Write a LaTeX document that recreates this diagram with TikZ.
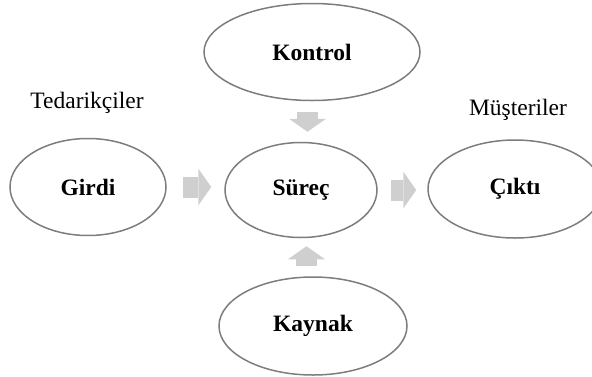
\documentclass[tikz,border=0pt]{standalone}
\usepackage{fontspec}
\setmainfont{Liberation Serif}
\usetikzlibrary{shapes.geometric,arrows.meta}
\definecolor{rimgray}{RGB}{125,125,125}
\definecolor{flowgray}{RGB}{207,207,207}
\begin{document}
\begin{tikzpicture}[x=1pt,y=-1pt,
	stage/.style={ellipse, draw=rimgray, line width=1.5pt, inner sep=0pt, font=\fontsize{23.5}{28}\selectfont\bfseries},
	side/.style={font=\fontsize{23.5}{28}\selectfont},
	flow/.style={draw=flowgray, line width=21pt, -{Triangle[width=37pt,length=13pt,line width'=0pt]}}]
	\useasboundingbox (0,0) rectangle (592,376);
	\node (Kontrol) at (312, 52)	[stage, minimum width=216pt, minimum height=97pt]	{Kontrol};
	\node (Girdi) at ( 88,187)	[stage, minimum width=156pt, minimum height=97pt]	{Girdi};
	\node (Surec) at (301,190)	[stage, minimum width=152pt, minimum height=95pt]	{Süreç};
	\node (Cikti) at (515,189)	[stage, minimum width=174pt, minimum height=98pt]	{Çıktı};
	\node (Kaynak) at (313,326)	[stage, minimum width=188pt, minimum height=98pt]	{Kaynak};
	\node (Tedarik) at ( 87,103)	[side]	{Tedarikçiler};
	\node (Musteri) at (518,110)	[side]	{Müşteriler};
	\draw[flow, shorten <=16pt, shorten >=13pt] (Girdi.east) -- (Girdi.east -| Surec.west);
	\draw[flow, shorten <=13pt, shorten >=11pt] (Surec.east) -- (Surec.east -| Cikti.west);
	\draw[flow, shorten <=11pt, shorten >=10pt] (Kontrol.south) ++(-4.5,0) coordinate (KontrolOut) -- (KontrolOut |- Surec.north);
	\draw[flow, shorten <=10pt, shorten >=8pt] (Kaynak.north) ++(-6.5,0) coordinate (KaynakOut) -- (KaynakOut |- Surec.south);
\end{tikzpicture}
\end{document}
